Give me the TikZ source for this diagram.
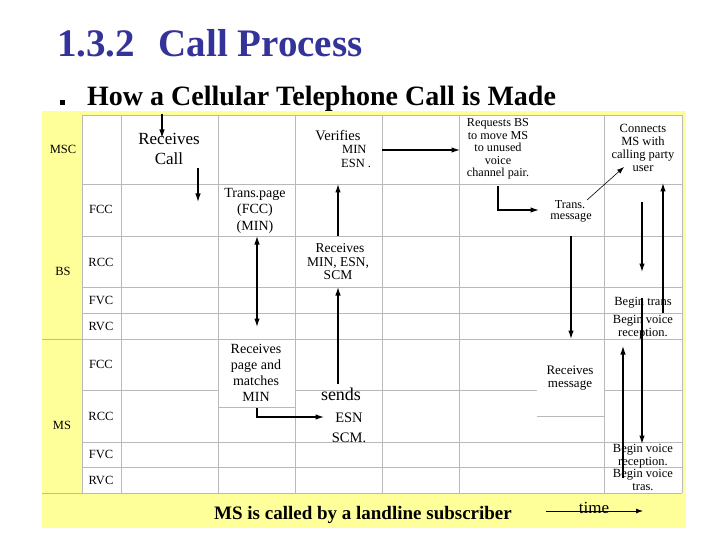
\documentclass[tikz,border=0pt]{standalone}
\usepackage{fontspec}
\setmainfont{Liberation Serif}
\usetikzlibrary{arrows.meta}
\definecolor{titleblue}{RGB}{51,51,153}
\definecolor{bgyellow}{RGB}{255,255,153}
\definecolor{gridgray}{RGB}{185,185,185}
\begin{document}
\begin{tikzpicture}[x=1pt,y=-1pt,
  gridline/.style={draw=gridgray,line width=0.9pt},
  arr/.style={draw=black,line width=1.2pt,-{Latex[length=8.5pt,width=5.5pt]}},
  dblarr/.style={draw=black,line width=1.2pt,{Latex[length=8.5pt,width=5.5pt]}-{Latex[length=8.5pt,width=5.5pt]}},
  thinarr/.style={draw=black,line width=0.6pt,-{Latex[length=7pt,width=5pt]}},
  tx/.style={inner sep=0pt,anchor=base,font=\fontsize{#1}{#1}\selectfont},
  lbl/.style={tx=12.5},
]
\useasboundingbox (0,0) rectangle (720,540);
\fill[white] (0,0) rectangle (720,540);

% title
\node[inner sep=0pt,anchor=base west,text=titleblue,font=\fontsize{39}{39}\selectfont\bfseries] (title) at (57,57) {1.3.2\hspace{0.6em}Call Process};
\node[fill=black,inner sep=0pt,minimum size=5pt] (bullet) at (62.5,103) {};
\node[inner sep=0pt,anchor=base west,font=\fontsize{28}{28}\selectfont\bfseries] (subtitle) at (87,106) {How a Cellular Telephone Call is Made};

% backgrounds
\fill[bgyellow] (42,111) rectangle (686,528);
\fill[white] (82,115) rectangle (682,493);

% grid
\foreach \x in {82,121,218,295,382,459,604,682} \draw[gridline] (\x,115) -- (\x,493);
\foreach \y in {115,184,236,287,313,442,467} \draw[gridline] (82,\y) -- (682,\y);
\draw[gridline] (42,339) -- (682,339);
\draw[gridline] (42,493) -- (682,493);
\draw[gridline] (82,390) -- (218,390);
\draw[gridline] (295,390) -- (537,390);
\draw[gridline] (604,390) -- (682,390);
\draw[gridline] (218,407) -- (295,407);
\draw[gridline] (537,416) -- (604,416);

% row labels
\node[lbl] (lmsc) at (63,154) {MSC};
\node[lbl] (lbs) at (63,275) {BS};
\node[lbl] (lms) at (62,429) {MS};
\node[lbl] (l1) at (101,214) {FCC};
\node[lbl] (l2) at (101,266) {RCC};
\node[lbl] (l3) at (101,304) {FVC};
\node[lbl] (l4) at (101,330) {RVC};
\node[lbl] (l5) at (101,368) {FCC};
\node[lbl] (l6) at (101,420) {RCC};
\node[lbl] (l7) at (101,458) {FVC};
\node[lbl] (l8) at (101,484) {RVC};

% cell texts
\node[tx=17] (rc1) at (169,145) {Receives};
\node[tx=17] (rc2) at (169,165) {Call};

\node[tx=14] (tp1) at (255,198) {Trans.page};
\node[tx=14] (tp2) at (255,214) {(FCC)};
\node[tx=14] (tp3) at (255,230) {(MIN)};

\node[tx=14.5] (vf1) at (338,141) {Verifies};
\node[tx=12.5,anchor=base west] (vf2) at (342,154) {MIN};
\node[tx=12.5,anchor=base west] (vf3) at (341,168) {ESN .};

\node[tx=13.5] (rm1) at (340,252) {Receives};
\node[tx=13.5] (rm2) at (338,266) {MIN, ESN,};
\node[tx=13.5] (rm3) at (338,279) {SCM};

\node[tx=12.2] (rq1) at (498,127) {Requests BS};
\node[tx=12.2] (rq2) at (498,139.5) {to move MS};
\node[tx=12.2] (rq3) at (498,152) {to unused};
\node[tx=12.2] (rq4) at (498,165) {voice};
\node[tx=12.2] (rq5) at (498,177) {channel pair.};

\node[tx=12.2] (tm1) at (570,208) {Trans.};
\node[tx=12.2] (tm2) at (571,220) {message};

\node[tx=12.5] (cn1) at (643,133) {Connects};
\node[tx=12.5] (cn2) at (643,146) {MS with};
\node[tx=12.5] (cn3) at (643,159) {calling party};
\node[tx=12.5] (cn4) at (643,172) {user};

\node[tx=12.5] (bt) at (643,305) {Begin trans};
\node[tx=12.5] (bv1) at (643,323) {Begin voice};
\node[tx=12.5] (bv2) at (643,336) {reception.};

\node[tx=14] (rp1) at (256,353) {Receives};
\node[tx=14] (rp2) at (256,369) {page and};
\node[tx=14] (rp3) at (256,385) {matches};
\node[tx=14] (rp4) at (256,401) {MIN};

\node[tx=18] (sd1) at (341,400) {sends};
\node[tx=14.5] (sd2) at (349,422) {ESN};
\node[tx=14.5] (sd3) at (349,442) {SCM.};

\node[tx=13] (rg1) at (570,374) {Receives};
\node[tx=13] (rg2) at (570,387) {message};

\node[tx=12.5] (bw1) at (643,452) {Begin voice};
\node[tx=12.5] (bw2) at (643,465) {reception.};
\node[tx=12.5] (bx1) at (643,477) {Begin voice};
\node[tx=12.5] (bx2) at (643,490) {tras.};

% bottom banner
\node[inner sep=0pt,anchor=base,font=\fontsize{19}{19}\selectfont\bfseries] (banner) at (363,519) {MS is called by a landline subscriber};
\node[tx=17] (time) at (594,513) {time};

% arrow end points
\coordinate (a1s) at (162,114); \coordinate (a1e) at (162,138);
\coordinate (a2s) at (198,168); \coordinate (a2e) at (198,202);
\coordinate (a3s) at (257,236); \coordinate (a3e) at (257,327);
\coordinate (a4s) at (338,236); \coordinate (a4e) at (338,184);
\coordinate (a5s) at (338,384); \coordinate (a5e) at (338,287);
\coordinate (a6s) at (382,150); \coordinate (a6e) at (460,150);
\coordinate (a7s) at (498,186); \coordinate (a7e) at (539,210);
\coordinate (a8s) at (587,200); \coordinate (a8e) at (624,167);
\coordinate (a9s) at (571,236); \coordinate (a9e) at (571,339);
\coordinate (a10s) at (642,202); \coordinate (a10e) at (642,272);
\coordinate (a11s) at (663,313); \coordinate (a11e) at (663,183);
\coordinate (a12s) at (642,298); \coordinate (a12e) at (642,444);
\coordinate (a13s) at (623,478); \coordinate (a13e) at (623,346);
\coordinate (a14s) at (257,408); \coordinate (a14e) at (324,417);
\coordinate (a15s) at (546,511); \coordinate (a15e) at (643,511);

% arrows
\draw[arr] (a1s) -- (a1e);
\draw[arr] (a2s) -- (a2e);
\draw[dblarr] (a3s) -- (a3e);
\draw[arr] (a4s) -- (a4e);
\draw[arr] (a5s) -- (a5e);
\draw[arr] (a6s) -- (a6e);
\draw[arr] (a7s) |- (a7e);
\draw[thinarr] (a8s) -- (a8e);
\draw[arr] (a9s) -- (a9e);
\draw[arr] (a10s) -- (a10e);
\draw[arr] (a11s) -- (a11e);
\draw[arr] (a12s) -- (a12e);
\draw[arr] (a13s) -- (a13e);
\draw[arr] (a14s) |- (a14e);
\draw[thinarr,line width=0.8pt] (a15s) -- (a15e);
\end{tikzpicture}
\end{document}
